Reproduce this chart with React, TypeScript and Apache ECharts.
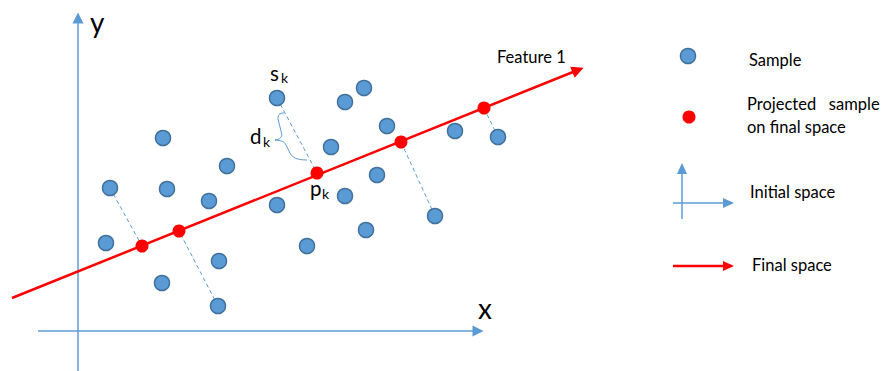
import React, { useEffect, useRef } from "react";
import * as echarts from "echarts";

// Data space: origin at the crossing of the initial axes (x right, y up)
const samples: [number, number][] = [
  [32, 143], [28, 88], [85, 193], [89, 142], [84, 48], [131, 130], [149, 165],
  [141, 70], [140, 25], [199, 233], [199, 126], [229, 85], [253, 184], [267, 229],
  [286, 243], [267, 135], [299, 156], [288, 101], [309, 205], [357, 115], [377, 200],
  [420, 194],
];
const projected: [number, number][] = [
  [64, 85], [101, 100], [239, 158], [323, 189], [406, 223],
];
// sample -> projection pairs drawn with dashed lines
const projectionPairs: [[number, number], [number, number]][] = [
  [[32, 143], [64, 85]],
  [[140, 25], [101, 100]],
  [[199, 233], [239, 158]],
  [[357, 115], [323, 189]],
  [[420, 194], [406, 223]],
];
const featureLine: [number, number][] = [[-66, 33], [500, 261]];
const xAxisLine: [number, number][] = [[-40, 0], [400, 0]];
const yAxisLine: [number, number][] = [[0, -45], [0, 313]];

const legendLabels = ["Sample", "Projected   sample", "on final space", "Initial space", "Final space"];

const BLUE = "#5B9BD5";
const BLUE_DARK = "#41719C";
const RED = "#FF0000";
const FONT = "Lato";

export default function App() {
  const ref = useRef<HTMLDivElement>(null);
  useEffect(() => {
    document.body.style.margin = "0";
    if (!ref.current) return;
    const chart = echarts.init(ref.current, undefined, { renderer: "svg" });

    const braceD =
      "M 284 113 C 279 113 278 115 278 119 L 281.5 133 C 282.5 137 280 139.5 275 140 C 281 140.5 284.5 141.5 286 145 L 290 153 C 292 157.5 297 160 307 160";
    echarts.graphic.registerShape("brace", (echarts.graphic as any).extendPath(braceD, {}));

    const txt = (text: string, x: number, y: number, size: number, extra: any = {}) => ({
      type: "text",
      x,
      y,
      z: 10,
      style: { text, fontSize: size, fontFamily: FONT, fill: "#000", align: "left", verticalAlign: "middle", ...extra },
    });

    const option: any = {
      animation: false,
      backgroundColor: "#fff",
      grid: { left: 0, right: 0, top: 0, bottom: 0 },
      xAxis: { type: "value", min: -78, max: 810, show: false },
      yAxis: { type: "value", min: -40, max: 331, show: false },
      series: [
        {
          type: "lines",
          coordinateSystem: "cartesian2d",
          z: 1,
          symbol: ["none", "triangle"],
          symbolSize: 11,
          lineStyle: { color: BLUE, width: 1.5, opacity: 1 },
          data: [{ coords: xAxisLine }, { coords: yAxisLine }],
        },
        {
          type: "lines",
          coordinateSystem: "cartesian2d",
          z: 2,
          symbol: ["none", "none"],
          lineStyle: { color: BLUE, width: 1, type: [4, 3], opacity: 1 },
          data: projectionPairs.map((p) => ({ coords: p })),
        },
        {
          type: "lines",
          coordinateSystem: "cartesian2d",
          z: 3,
          symbol: ["none", "triangle"],
          symbolSize: 12,
          lineStyle: { color: RED, width: 2.5, opacity: 1 },
          data: [{ coords: featureLine }],
        },
        {
          type: "scatter",
          z: 4,
          symbolSize: 15,
          itemStyle: { color: BLUE, borderColor: BLUE_DARK, borderWidth: 1.5, opacity: 1 },
          data: samples,
        },
        {
          type: "scatter",
          z: 5,
          symbolSize: 13,
          itemStyle: { color: RED, opacity: 1 },
          data: projected,
        },
      ],
      graphic: [
        txt("y", 90, 22, 28),
        txt("x", 478, 308, 28),
        txt("s", 270, 73, 20.5),
        txt("k", 281, 77, 14),
        txt("d", 250, 136, 20.5),
        txt("k", 263, 141, 14),
        txt("p", 310, 188, 20.5),
        txt("k", 322, 193, 14),
        txt("Feature 1", 497, 57, 16.5),
        {
          type: "brace",
          x: 0,
          y: 0,
          z: 10,
          style: { fill: "none", stroke: BLUE, lineWidth: 1 },
        },
        // legend
        { type: "circle", z: 10, shape: { cx: 688, cy: 56, r: 7.5 }, style: { fill: BLUE, stroke: BLUE_DARK, lineWidth: 1.5 } },
        txt(legendLabels[0], 749, 60, 16.5),
        { type: "circle", z: 10, shape: { cx: 689, cy: 117, r: 6.5 }, style: { fill: RED } },
        txt(legendLabels[1], 747, 104, 16.5),
        txt(legendLabels[2], 747, 127, 16.5),
        { type: "line", z: 10, shape: { x1: 682, y1: 219, x2: 682, y2: 172 }, style: { stroke: BLUE, lineWidth: 1.5 } },
        { type: "polygon", z: 10, shape: { points: [[682, 163], [677, 174], [687, 174]] }, style: { fill: BLUE } },
        { type: "line", z: 10, shape: { x1: 673, y1: 203, x2: 725, y2: 203 }, style: { stroke: BLUE, lineWidth: 1.5 } },
        { type: "polygon", z: 10, shape: { points: [[734, 203], [723, 198], [723, 208]] }, style: { fill: BLUE } },
        txt(legendLabels[3], 750, 192, 16.5),
        { type: "line", z: 10, shape: { x1: 673, y1: 266, x2: 725, y2: 266 }, style: { stroke: RED, lineWidth: 2.5 } },
        { type: "polygon", z: 10, shape: { points: [[734, 266], [723, 261], [723, 271]] }, style: { fill: RED } },
        txt(legendLabels[4], 752, 265, 16.5),
      ],
    };
    chart.setOption(option);
    return () => chart.dispose();
  }, []);
  return <div ref={ref} style={{ width: 888, height: 371 }} />;
}
